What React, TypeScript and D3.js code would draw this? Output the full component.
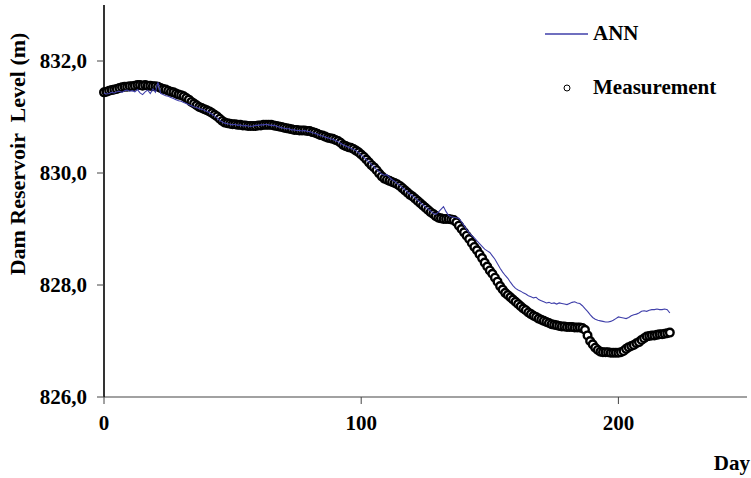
import React, { useEffect, useRef } from "react";
import * as d3 from "d3";

// daily values, day 0 .. 220
const measurement = [
  831.44, 831.45, 831.47, 831.48, 831.49, 831.50, 831.52, 831.53, 831.54, 831.54,
  831.55, 831.55, 831.56, 831.57, 831.57, 831.56, 831.57, 831.56, 831.56, 831.55,
  831.55, 831.54, 831.52, 831.50, 831.49, 831.47, 831.45, 831.44, 831.42, 831.40,
  831.39, 831.37, 831.34, 831.31, 831.27, 831.24, 831.21, 831.18, 831.16, 831.14,
  831.12, 831.10, 831.07, 831.04, 831.01, 830.97, 830.93, 830.90, 830.89, 830.88,
  830.87, 830.87, 830.86, 830.86, 830.85, 830.85, 830.84, 830.84, 830.84, 830.84,
  830.85, 830.85, 830.86, 830.86, 830.86, 830.86, 830.85, 830.84, 830.83, 830.82,
  830.81, 830.80, 830.79, 830.78, 830.77, 830.77, 830.76, 830.76, 830.76, 830.75,
  830.75, 830.73, 830.72, 830.70, 830.68, 830.67, 830.65, 830.63, 830.62, 830.61,
  830.59, 830.57, 830.54, 830.50, 830.48, 830.46, 830.45, 830.43, 830.40, 830.37,
  830.33, 830.29, 830.24, 830.19, 830.14, 830.10, 830.05, 829.99, 829.94, 829.90,
  829.88, 829.86, 829.84, 829.82, 829.80, 829.77, 829.73, 829.69, 829.65, 829.61,
  829.58, 829.54, 829.50, 829.46, 829.42, 829.38, 829.34, 829.30, 829.27, 829.23,
  829.20, 829.19, 829.18, 829.18, 829.18, 829.17, 829.16, 829.12, 829.06, 829.00,
  828.94, 828.88, 828.82, 828.75, 828.68, 828.62, 828.55, 828.48, 828.40, 828.33,
  828.26, 828.20, 828.13, 828.06, 827.98, 827.92, 827.86, 827.82, 827.78, 827.74,
  827.70, 827.66, 827.62, 827.58, 827.55, 827.51, 827.48, 827.45, 827.43, 827.40,
  827.38, 827.36, 827.34, 827.32, 827.30, 827.29, 827.28, 827.27, 827.26, 827.26,
  827.25, 827.25, 827.25, 827.24, 827.24, 827.24, 827.23, 827.20, 827.10, 827.00,
  826.94, 826.88, 826.84, 826.81, 826.80, 826.80, 826.80, 826.79, 826.79, 826.79,
  826.79, 826.80, 826.82, 826.86, 826.89, 826.91, 826.93, 826.96, 826.98, 827.02,
  827.05, 827.08, 827.09, 827.10, 827.10, 827.11, 827.12, 827.12, 827.13, 827.14,
  827.15,
];

const ann = [
  831.43, 831.41, 831.42, 831.44, 831.43, 831.45, 831.46, 831.44, 831.47, 831.48,
  831.46, 831.47, 831.45, 831.49, 831.43, 831.40, 831.45, 831.48, 831.42, 831.50,
  831.44, 831.62, 831.42, 831.40, 831.38, 831.37, 831.35, 831.33, 831.31, 831.29,
  831.28, 831.26, 831.24, 831.22, 831.20, 831.18, 831.17, 831.15, 831.14, 831.12,
  831.10, 831.08, 831.05, 831.02, 830.98, 830.94, 830.91, 830.89, 830.88, 830.87,
  830.86, 830.87, 830.85, 830.86, 830.84, 830.85, 830.84, 830.83, 830.84, 830.85,
  830.85, 830.86, 830.86, 830.87, 830.86, 830.85, 830.85, 830.84, 830.82, 830.81,
  830.80, 830.79, 830.79, 830.77, 830.77, 830.76, 830.76, 830.75, 830.76, 830.74,
  830.74, 830.72, 830.71, 830.69, 830.67, 830.66, 830.64, 830.63, 830.61, 830.60,
  830.58, 830.56, 830.53, 830.50, 830.48, 830.46, 830.44, 830.42, 830.40, 830.36,
  830.32, 830.28, 830.24, 830.20, 830.15, 830.11, 830.06, 830.02, 829.98, 829.96,
  829.97, 829.92, 829.88, 829.85, 829.81, 829.78, 829.74, 829.70, 829.66, 829.62,
  829.59, 829.55, 829.51, 829.47, 829.43, 829.39, 829.36, 829.32, 829.28, 829.26,
  829.30, 829.35, 829.40, 829.31, 829.24, 829.22, 829.21, 829.20, 829.19, 829.13,
  829.06, 828.99, 828.93, 828.88, 828.84, 828.79, 828.74, 828.69, 828.64, 828.61,
  828.58, 828.52, 828.46, 828.38, 828.30, 828.23, 828.17, 828.12, 828.05, 827.99,
  827.94, 827.91, 827.89, 827.86, 827.84, 827.81, 827.79, 827.77, 827.78, 827.74,
  827.72, 827.70, 827.68, 827.69, 827.67, 827.68, 827.66, 827.68, 827.67, 827.66,
  827.65, 827.67, 827.69, 827.70, 827.68, 827.67, 827.63, 827.58, 827.53, 827.47,
  827.42, 827.39, 827.37, 827.36, 827.35, 827.34, 827.34, 827.35, 827.37, 827.40,
  827.43, 827.42, 827.41, 827.40, 827.42, 827.45, 827.47, 827.48, 827.50, 827.53,
  827.54, 827.53, 827.55, 827.56, 827.56, 827.57, 827.56, 827.56, 827.57, 827.56,
  827.50,
];

const xTicks = [0, 100, 200];
const yTicks = [826, 828, 830, 832];
const seriesNames = ["ANN", "Measurement"];

const W = 751, H = 478;
const FONT = "'Liberation Serif', 'Times New Roman', serif";

export default function App() {
  const ref = useRef<SVGSVGElement>(null);

  useEffect(() => {
    const svg = d3.select(ref.current);
    svg.selectAll("*").remove();

    const x = d3.scaleLinear().domain([0, 250]).range([104, 747]);
    const y = d3.scaleLinear().domain([826, 833]).range([397, 5]);

    // axes
    svg.append("line")
      .attr("x1", x(0)).attr("x2", x(250))
      .attr("y1", y(826)).attr("y2", y(826))
      .attr("stroke", "#444").attr("stroke-width", 1.2);
    svg.append("line")
      .attr("x1", x(0)).attr("x2", x(0))
      .attr("y1", y(826)).attr("y2", y(833))
      .attr("stroke", "#000").attr("stroke-width", 1.6);

    svg.selectAll(".xt").data(xTicks).join("line")
      .attr("x1", d => x(d)).attr("x2", d => x(d))
      .attr("y1", y(826)).attr("y2", y(826) + 7)
      .attr("stroke", "#444");
    svg.selectAll(".xl").data(xTicks).join("text")
      .attr("x", d => x(d)).attr("y", 430)
      .attr("text-anchor", "middle")
      .text(d => d);

    svg.selectAll(".yt").data(yTicks).join("line")
      .attr("x1", x(0) - 7).attr("x2", x(0))
      .attr("y1", d => y(d)).attr("y2", d => y(d))
      .attr("stroke", "#444");
    svg.selectAll(".yl").data(yTicks).join("text")
      .attr("x", 87).attr("y", d => y(d) + 7)
      .attr("text-anchor", "end")
      .text(d => d3.format(".1f")(d).replace(".", ","));

    svg.append("text")
      .attr("transform", "translate(25,154) rotate(-90)")
      .attr("text-anchor", "middle")
      .style("white-space", "pre")
      .attr("class", "title")
      .text("Dam Reservoir  Level (m)");

    svg.append("text")
      .attr("x", 750).attr("y", 470)
      .attr("text-anchor", "end")
      .text("Day");

    // measurement circles
    svg.append("g").selectAll("circle").data(measurement).join("circle")
      .attr("cx", (d, i) => x(i)).attr("cy", d => y(d))
      .attr("r", 3.8)
      .attr("fill", "#fff")
      .attr("stroke", "#000")
      .attr("stroke-width", 2.4);

    // ANN line
    const line = d3.line<number>().x((d, i) => x(i)).y(d => y(d));
    svg.append("path")
      .datum(ann)
      .attr("d", line)
      .attr("fill", "none")
      .attr("stroke", "#3f3faa")
      .attr("stroke-width", 1.1);

    // legend
    svg.append("line")
      .attr("x1", 545).attr("x2", 588).attr("y1", 34).attr("y2", 34)
      .attr("stroke", "#3f3faa").attr("stroke-width", 1.3);
    svg.append("text").attr("x", 593).attr("y", 40).text(seriesNames[0]);
    svg.append("circle")
      .attr("cx", 567).attr("cy", 88).attr("r", 3)
      .attr("fill", "#fff").attr("stroke", "#000").attr("stroke-width", 1);
    svg.append("text").attr("x", 593).attr("y", 94).text(seriesNames[1]);

    svg.selectAll("text")
      .attr("font-family", FONT)
      .attr("font-weight", "bold")
      .attr("font-size", 21)
      .attr("fill", "#000");
    svg.select(".title").attr("font-size", 22);
  }, []);

  return (
    <svg ref={ref} width={W} height={H}
      style={{ position: "absolute", left: 0, top: 0, background: "#fff" }} />
  );
}
